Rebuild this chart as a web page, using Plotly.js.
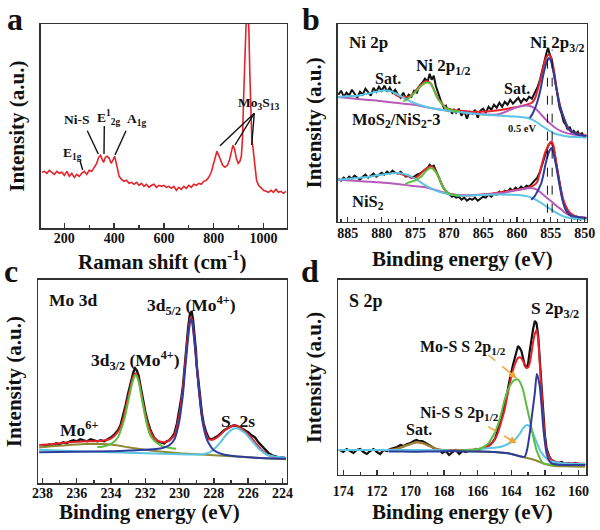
<!DOCTYPE html>
<html><head><meta charset="utf-8">
<script src="https://cdn.plot.ly/plotly-3.0.1.min.js"></script>
<style>html,body{margin:0;padding:0;background:#fff}#chart{width:600px;height:530px}</style>
</head><body><div id="chart"></div>
<script>
// ---------- Panel a: Raman spectrum [shift cm-1, intensity a.u.] ----------
const ramanSpectrum = [[110,56],[120,57],[130,55],[140,58],[150,56],[160,54],[170,57],[180,55],[190,56],[200,53],[210,57],[220,52],[230,55],[240,51],[250,54],[260,52],[270,55],[280,57],[290,54],[300,58],[310,57],[320,61],[330,65],[338,71],[345,73],[352,69],[358,66],[365,71],[372,72],[380,70],[388,65],[395,68],[402,72],[408,66],[414,58],[420,52],[430,49],[440,47],[450,48],[460,45],[470,46],[480,44],[490,46],[500,43],[510,45],[520,42],[530,44],[540,41],[550,43],[560,44],[570,41],[580,43],[590,42],[600,43],[610,41],[620,42],[630,40],[640,42],[650,38],[660,41],[670,39],[680,42],[690,40],[700,43],[710,41],[720,44],[730,43],[740,45],[750,44],[760,47],[770,48],[780,51],[790,56],[798,63],[806,71],[813,77],[820,73],[828,67],[836,63],[845,61],[855,63],[863,68],[870,76],[877,83],[884,79],[891,70],[898,65],[905,67],[911,72],[916,92],[920,130],[924,175],[928,210],[932,220],[937,218],[941,200],[945,155],[949,110],[953,88],[957,82],[961,72],[966,58],[972,48],[980,43],[990,40],[1000,38],[1010,37],[1020,36],[1030,38],[1040,36],[1050,39],[1060,36],[1070,37],[1080,35],[1090,37]];

// ---------- Panel b: Ni 2p XPS [binding energy eV, intensity a.u.] ----------
const niTopData = [[886.4,127],[886.0,131],[885.6,125],[885.2,129],[884.8,126],[884.4,132],[884.0,128],[883.6,124],[883.2,130],[882.8,127],[882.4,133],[882.0,129],[881.6,126],[881.2,134],[880.8,130],[880.4,135],[880.0,131],[879.6,136],[879.2,130],[878.8,134],[878.4,129],[878.0,132],[877.6,127],[877.2,124],[876.8,129],[876.4,123],[876.0,127],[875.6,125],[875.2,131],[874.8,129],[874.4,136],[874.0,139],[873.6,143],[873.2,140],[872.9,148],[872.6,142],[872.3,146],[872.0,136],[871.7,130],[871.4,122],[871.1,118],[870.8,114],[870.5,116],[870.2,110],[869.9,113],[869.6,108],[869.3,112],[869.0,109],[868.6,113],[868.2,106],[867.8,111],[867.4,103],[867.0,110],[866.6,108],[866.2,112],[865.8,104],[865.4,111],[865.0,113],[864.6,109],[864.2,115],[863.8,112],[863.4,117],[863.0,114],[862.6,119],[862.2,115],[861.8,120],[861.4,117],[861.0,122],[860.6,118],[860.2,121],[859.8,124],[859.4,119],[859.0,123],[858.6,121],[858.2,125],[857.8,123],[857.4,128],[857.0,134],[856.6,142],[856.2,154],[855.9,163],[855.6,170],[855.4,174],[855.2,168],[854.9,163],[854.6,150],[854.3,137],[854.0,126],[853.7,114],[853.4,108],[853.1,100],[852.8,97],[852.5,92],[852.2,95],[851.9,89],[851.6,91],[851.3,88],[851.0,90],[850.7,86],[850.4,89],[850.1,84],[849.8,87]];
const niTopEnvelope = [[878.2,128.5],[877.6,125.5],[877.0,124.5],[876.6,124.7],[876.2,124.8],[875.9,125.2],[875.5,127.3],[875.2,129.3],[874.8,132.5],[874.4,135.5],[874.0,138],[873.6,140],[873.3,140.5],[873.0,139.7],[872.7,138],[872.4,134],[872.0,128],[871.6,122.5],[871.2,119.5],[870.8,116],[870.5,114],[870.0,112.7],[869.5,111.8],[868.5,111],[867,110],[865.5,110],[864,110.5],[862.5,111.8],[861.2,113.2],[860.2,114.5],[859.35,115.6],[858.6,117],[857.8,119],[857.3,124],[856.9,133],[856.5,143],[856.1,155],[855.8,162],[855.5,166],[855.3,167],[855.0,165],[854.8,160.3],[854.5,150],[854.2,135.3],[853.8,121],[853.4,110.3],[853.0,102],[852.5,93.7],[852.0,90],[851.0,87.7],[849.7,86]];
const niTopBackground = [[886.5,124.7],[885,125.5],[883.5,126],[882.5,127.5],[881.6,128.7],[880.6,130.2],[879.6,131.3],[878.6,130.3],[877.9,128.2],[877.1,125.3],[876.2,121.8],[875.2,118.7],[874,116],[872.7,113.7],[871.5,112.2],[870.2,111],[869,110],[867,108.5],[865,107],[863,106.2],[860.8,105.3],[859.5,104.8],[858.4,103.7],[857.6,101.5],[856.9,98.7],[856.3,95.8],[855.7,93],[855.0,90.3],[854.4,88],[853.5,86.5],[852.5,85.3],[851.0,84.6],[849.7,84.3]];
const niTopSatellite = [[886.5,124.7],[885,123.8],[883.5,122.7],[882,121.8],[880.6,121],[879.1,119.8],[877.6,118.7],[876.4,117.8],[875.2,117],[874.2,115.7],[873.2,114.3],[872.4,113.4],[871.7,112.5],[870.5,111.3],[869.2,110.2],[867,108.7],[865,107.5],[863.3,107],[862.2,108.5],[861.5,110.5],[860.8,112.5],[860,114.5],[859.3,115.8],[858.8,116.3],[858.2,116],[857.4,113.7],[856.9,110.7],[856.4,107],[855.8,102.5],[854.9,97],[854.2,93.2],[853.4,90.3],[852.5,88.3],[851.5,87],[850.5,86],[849.7,85.5]];
const niTop2p12 = [[876.8,120.5],[876.2,122.5],[875.7,125.3],[875.2,128.5],[874.7,132],[874.3,135],[873.9,137.3],[873.5,139],[873.2,139.3],[872.9,138.5],[872.6,136.5],[872.3,132],[872.0,127],[871.6,122],[871.2,118.7],[870.8,115.5],[870.5,113.7],[870.0,112.3],[869.5,111.3],[868.5,110.3]];
const niTop2p32 = [[858.1,103.7],[857.7,108],[857.3,114],[856.9,122],[856.5,133],[856.2,144],[855.9,153],[855.6,160],[855.3,163.7],[855.0,161],[854.7,153],[854.4,142],[854.0,127],[853.7,117],[853.4,110.3],[853.0,102.5],[852.6,96],[852.2,92],[851.6,89],[851.0,87],[850.3,86.3],[849.7,86]];

const niBotData = [[886.4,43],[886.0,41],[885.6,44],[885.2,42],[884.8,45],[884.4,43],[884.0,46],[883.6,44],[883.2,42],[882.8,45],[882.4,47],[882.0,44],[881.6,46],[881.2,48],[880.8,45],[880.4,47],[880.0,49],[879.6,47],[879.2,50],[878.8,48],[878.4,51],[878.0,49],[877.6,48],[877.2,50],[876.8,47],[876.4,45],[876.0,46],[875.6,44],[875.2,45],[874.8,47],[874.4,48],[874.0,50],[873.6,52],[873.2,54],[872.9,57],[872.6,55],[872.3,56],[872.0,51],[871.7,47],[871.4,42],[871.1,37],[870.8,33],[870.5,30],[870.2,28],[869.9,27],[869.6,25],[869.3,26],[869.0,24],[868.6,25],[868.2,22],[867.8,24],[867.4,21],[867.0,23],[866.6,22],[866.2,24],[865.8,21],[865.4,23],[865.0,25],[864.6,24],[864.2,27],[863.8,25],[863.4,28],[863.0,27],[862.6,30],[862.2,28],[861.8,31],[861.4,30],[861.0,33],[860.6,31],[860.2,34],[859.8,32],[859.4,35],[859.0,33],[858.6,36],[858.2,35],[857.8,38],[857.4,40],[857.0,44],[856.6,50],[856.3,57],[856.0,64],[855.7,71],[855.4,76],[855.1,79],[854.8,78],[854.5,70],[854.2,58],[853.9,46],[853.6,35],[853.3,24],[853.0,16],[852.7,11],[852.4,8],[852.1,6],[851.8,5],[851.5,3],[851.2,5],[850.9,3],[850.6,2],[850.3,4],[850.0,2],[849.8,3]];
const niBotEnvelope = [[877.6,48.7],[876.8,47],[876.0,45.3],[875.6,44],[875.2,43.7],[874.8,44.8],[874.4,47],[874.0,49.7],[873.5,52.7],[873.0,54.8],[872.6,55.3],[872.3,53.8],[871.9,49.3],[871.5,44],[871.2,38.7],[870.9,34.7],[870.6,31.5],[870.3,29.5],[870.0,28],[869,26.8],[868,26.3],[866,26.8],[864,28],[862.5,29.5],[861,31],[860,32],[859.35,32.5],[858.4,34],[857.4,37],[857.0,40],[856.7,47],[856.4,55.3],[856.1,63],[855.8,70],[855.4,75.3],[855.1,79],[854.9,80.3],[854.6,76],[854.2,58.7],[853.8,42],[853.4,28.7],[853.0,19],[852.5,12],[852.0,8],[851.0,4.7],[849.7,3.7]];
const niBotBackground = [[886.5,42],[884,43.5],[881.6,45.3],[879.6,47.5],[877.6,48.7],[876.5,47.5],[875.7,45.3],[874.7,41.5],[873.7,37],[872.7,33.3],[871.7,30.3],[870.7,28.3],[869.7,27],[868,26],[866,26.5],[864.3,27],[862.5,27.2],[860.8,27],[859.5,26.5],[858.4,25.3],[857.4,22.5],[856.4,18.7],[855.6,15],[854.9,12],[854.1,8.5],[853.4,6],[852.7,4.5],[852.0,3.7],[851,3.0],[849.7,2.7]];
const niBotSatellite = [[886.5,42],[884.5,41.2],[882.6,40.3],[880.8,39.5],[879.1,38.7],[877.4,37.5],[875.7,36],[873.7,34.7],[872.7,33],[871.7,31],[870.7,29],[869.7,27.5],[868,26.5],[866,26.8],[864,27.5],[862.5,28.5],[861.8,29],[860.5,31],[859.3,32.5],[858.4,33.5],[857.9,33.7],[857.2,32.5],[856.4,28.7],[855.6,24],[854.9,20.3],[854.1,15.5],[853.4,12],[852.7,8],[852.0,6],[851.2,4.8],[850.5,4.3],[849.7,4]];
const niBot2p12 = [[876.5,37.5],[876.0,39.3],[875.5,40.3],[875.0,41.3],[874.5,43.5],[874.0,46],[873.6,49.5],[873.2,52],[872.9,53.3],[872.6,53.7],[872.3,52],[871.9,48.7],[871.5,43.5],[871.2,38.7],[870.9,34.5],[870.6,31.3],[870.3,29.3],[870.0,28],[869.3,26.8],[868.5,26]];
const niBot2p32 = [[857.9,22],[857.4,25.3],[857.0,30],[856.7,34],[856.4,38.7],[856.1,47],[855.8,57],[855.5,65.3],[855.2,71],[854.9,73.7],[854.6,68],[854.2,55.3],[853.8,40],[853.4,25.3],[853.0,15],[852.5,8.7],[852.0,6],[851.0,4.7],[849.7,3.7]];
const niPeakShift = [855.5, 854.8];   // Ni 2p3/2 positions marked by dashed lines (0.5 eV shift)

// ---------- Panel c: Mo 3d XPS ----------
const moData = [[238.0,38],[237.8,37],[237.6,39],[237.4,38],[237.2,40],[237.0,39],[236.8,41],[236.6,40],[236.4,42],[236.2,43],[236.0,42],[235.8,44],[235.6,43],[235.4,42],[235.2,44],[235.0,43],[234.8,42],[234.6,43],[234.4,42],[234.2,44],[234.0,46],[233.8,49],[233.6,53],[233.45,58],[233.3,67],[233.15,78],[233.0,90],[232.9,98],[232.8,105],[232.7,111],[232.6,115],[232.5,113],[232.4,108],[232.3,99],[232.2,88],[232.1,79],[232.0,71],[231.85,61],[231.7,53],[231.5,46],[231.3,42],[231.1,41],[230.9,40],[230.75,42],[230.6,43],[230.45,46],[230.3,50],[230.15,60],[230.0,73],[229.9,85],[229.8,98],[229.7,118],[229.6,138],[229.5,156],[229.4,169],[229.3,172],[229.22,164],[229.15,153],[229.05,133],[229.0,118],[228.9,100],[228.8,83],[228.7,70],[228.6,60],[228.45,51],[228.3,45],[228.15,44],[228.0,45],[227.8,47],[227.6,50],[227.4,53],[227.2,55],[227.0,57],[226.8,58],[226.6,57],[226.4,55],[226.2,53],[226.0,51],[225.8,48],[225.6,46],[225.4,41],[225.2,37],[225.0,33],[224.8,30],[224.6,28],[224.4,27],[224.2,26],[224.0,26],[223.8,25]];
const moEnvelope = [[238.2,38.3],[237.5,39],[237,40],[236.5,41],[236,41.5],[235.5,42],[235,42],[234.5,42.5],[234.2,43.5],[234.0,45],[233.8,47.5],[233.6,51.5],[233.45,56.5],[233.3,64],[233.15,75],[233.0,86],[232.9,94],[232.8,101],[232.7,107],[232.6,110],[232.5,108.5],[232.4,104],[232.3,96],[232.2,86],[232.1,77],[232.0,69],[231.85,59],[231.7,52],[231.5,46],[231.3,43],[231.1,41.5],[230.9,41],[230.7,42],[230.5,44.5],[230.3,48],[230.15,57],[230.0,70],[229.9,82],[229.8,96],[229.7,115],[229.6,134],[229.5,151],[229.42,161],[229.35,166],[229.28,164],[229.2,154],[229.1,137],[229.0,118],[228.9,99],[228.8,82],[228.7,68],[228.6,58],[228.45,49],[228.3,44],[228.15,43.5],[228.0,44],[227.8,46],[227.6,49],[227.4,52.5],[227.2,55],[227.0,57],[226.8,58],[226.6,57],[226.4,55],[226.2,52],[226.0,49],[225.8,45.5],[225.6,41],[225.4,37],[225.2,33],[225.0,30],[224.8,28],[224.4,26],[224.0,25.5],[223.8,25.3]];
const mo6Plus = [[238.2,36],[237.5,37],[237,37.5],[236.5,38.2],[236,38.8],[235.5,39.2],[235,39.3],[234.5,39.2],[234,38.7],[233.5,37.5],[233,36],[232.5,34.7],[232,33.5],[231,31.5],[230,30],[229,29],[228,28],[227,27],[226,26],[225,25],[223.8,24]];
const s2s = [[238.2,33.5],[236,32],[234,31],[232,30],[230,29],[228.8,28.8],[228.6,29],[228.4,30],[228.2,31.5],[228.0,34],[227.8,37.5],[227.6,41.5],[227.4,46],[227.2,50],[227.0,53],[226.85,54.5],[226.7,55],[226.55,54.5],[226.4,53],[226.2,50.5],[226.0,47],[225.8,43],[225.6,39],[225.4,35],[225.2,32],[225.0,29.5],[224.8,28],[224.5,26.8],[224.2,26.2],[223.8,25.8]];
const mo3d32 = [[234.8,36],[234.4,37],[234.2,38],[234.0,39.5],[233.8,42],[233.6,46],[233.5,50],[233.35,57],[233.2,66],[233.1,74],[233.0,82],[232.9,90],[232.8,98],[232.7,104],[232.6,108],[232.5,107],[232.4,102],[232.3,94],[232.2,84],[232.1,75],[232.0,66],[231.9,58],[231.8,52],[231.65,46],[231.5,43],[231.3,40],[231.0,37],[230.6,35.5],[230.2,34.5]];
const mo3d52 = [[238.2,31],[236,31.5],[234,32],[233,32.7],[232,33.5],[231.4,34.3],[231.0,35.3],[230.6,38],[230.3,44],[230.15,52],[230.0,64],[229.9,76],[229.8,90],[229.7,110],[229.6,128],[229.5,146],[229.42,158],[229.35,164],[229.28,162],[229.2,152],[229.1,135],[229.0,116],[228.9,97],[228.8,80],[228.7,66],[228.6,56],[228.45,46],[228.3,40],[228.0,33],[227.5,29],[227.0,27.5],[226,26],[225,25],[223.8,24.5]];

// ---------- Panel d: S 2p XPS ----------
const sData = [[174.2,25],[174.0,23],[173.8,26],[173.6,24],[173.4,22],[173.2,25],[173.0,26],[172.8,23],[172.6,21],[172.4,24],[172.2,26],[172.0,23],[171.8,21],[171.6,25],[171.4,24],[171.2,26],[171.0,27],[170.8,28],[170.6,30],[170.4,29],[170.2,31],[170.0,32],[169.8,34],[169.65,35],[169.5,34],[169.3,34],[169.1,32],[168.9,30],[168.7,28],[168.5,26],[168.3,25],[168.1,22],[167.9,24],[167.7,20],[167.5,23],[167.3,25],[167.1,21],[166.9,24],[166.7,23],[166.5,25],[166.3,24],[166.1,26],[165.9,25],[165.7,27],[165.5,28],[165.3,30],[165.1,33],[164.95,37],[164.8,45],[164.65,53],[164.5,62],[164.35,73],[164.2,87],[164.05,99],[163.9,110],[163.75,120],[163.6,129],[163.5,127],[163.4,124],[163.3,117],[163.2,110],[163.1,107],[163.0,111],[162.9,124],[162.8,136],[162.7,146],[162.6,154],[162.5,152],[162.4,140],[162.3,112],[162.2,84],[162.1,58],[162.0,40],[161.9,27],[161.75,19],[161.6,15],[161.4,13],[161.2,12],[161.0,13],[160.8,11],[160.6,12],[160.4,11],[160.2,12],[160.0,11],[159.8,11],[159.6,10]];
const sEnvelope = [[171.8,24.8],[171.2,25.3],[170.8,26.5],[170.4,28.5],[170.0,31],[169.65,32.8],[169.3,32],[169.0,30],[168.7,27.5],[168.4,25.7],[168,25],[167,25],[166.2,25.5],[165.7,26.8],[165.4,28.3],[165.2,31],[165.0,35],[164.8,42],[164.6,53],[164.4,65],[164.2,82],[164.0,98],[163.8,110],[163.6,117],[163.45,117.5],[163.3,114],[163.15,108],[163.0,107.5],[162.9,112],[162.8,121.7],[162.7,133],[162.6,141],[162.5,145],[162.4,136],[162.3,110],[162.2,84],[162.1,58],[162.0,38],[161.9,25],[161.7,17],[161.4,13.3],[161.0,12],[160.5,11.7],[159.6,11.3]];
const sSatBackground = [[174.3,25],[172,25],[171.5,25],[171.0,25.5],[170.6,27.3],[170.3,29.2],[170.0,31],[169.65,32.8],[169.3,32],[169.0,30],[168.7,27.8],[168.4,25.7],[168.0,24.8],[167.36,24.3],[166.4,23.8],[165.4,23.3],[164.8,22.7],[164.2,21.7],[163.8,20.2],[163.4,18.3],[163.0,16.8],[162.6,15],[162.3,13],[162.0,11],[161.7,9.8],[161.4,9],[160.5,8.6],[159.6,8.3]];
const sNiS = [[174.3,25],[172,25],[170,25],[168,24.8],[167.36,24.3],[166.4,25],[165.4,26.7],[164.6,28.3],[164.2,31],[163.8,35],[163.5,41],[163.3,46.7],[163.05,50],[162.9,48.5],[162.7,41.7],[162.5,33],[162.3,25],[162.05,19],[161.8,15],[161.4,12.8],[161.0,11.7],[160.3,11.2],[159.6,11]];
const sMoS = [[167.3,24.5],[166.6,24.8],[166.2,25.3],[165.8,26.7],[165.4,31],[165.0,41.7],[164.7,55],[164.4,75],[164.2,85],[164.0,91.7],[163.8,95],[163.65,95.7],[163.5,93.5],[163.3,85],[163.1,70],[162.9,55],[162.7,39],[162.5,25],[162.3,17],[162.1,11.7],[161.7,10.5],[161.0,10],[159.6,10]];
const s2p32 = [[171.3,23.5],[170.5,23.4],[169.5,23.3],[168.5,23.5],[167.5,24],[166.5,23.5],[165.4,23.3],[164.2,21.7],[163.4,18.5],[163.2,18.3],[163.05,26],[162.9,41.7],[162.75,62],[162.6,81.7],[162.48,101],[162.4,97],[162.3,88.3],[162.2,70],[162.1,48.3],[162.0,33],[161.9,21.7],[161.75,14.5],[161.6,11.7],[161.3,10.5],[160.5,10],[159.6,10]];

// ---------- styling ----------
const C = {red:'#e5232b', green:'#5cbd3f', blue:'#2e3c9e', magenta:'#b65bb8', cyan:'#5cc5e3', olive:'#8e8a33', black:'#111111', orange:'#f2a534'};
const FONT = 'Liberation Serif';

function tr(pairs, n, color, width, smooth) {
  return {x: pairs.map(p => p[0]), y: pairs.map(p => p[1]), xaxis: 'x' + (n > 1 ? n : ''), yaxis: 'y' + (n > 1 ? n : ''),
    type: 'scatter', mode: 'lines', line: {color: color, width: width, shape: smooth ? 'spline' : 'linear', smoothing: 0.7},
    hoverinfo: 'skip', showlegend: false};
}

const traces = [
  tr(ramanSpectrum, 1, C.red, 1.6, false),
  tr(niTopData, 2, C.black, 2, false), tr(niBotData, 2, C.black, 2, false),
  tr(niTopEnvelope, 2, C.red, 2, true), tr(niBotEnvelope, 2, C.red, 2, true),
  tr(niTopSatellite, 2, C.magenta, 2, true), tr(niBotSatellite, 2, C.magenta, 2, true),
  tr(niTopBackground, 2, C.cyan, 2, true), tr(niBotBackground, 2, C.cyan, 2, true),
  tr(niTop2p12, 2, C.green, 2, true), tr(niBot2p12, 2, C.green, 2, true),
  tr(niTop2p32, 2, C.blue, 2, true), tr(niBot2p32, 2, C.blue, 2, true),
  tr(moData, 3, C.black, 2.4, false), tr(moEnvelope, 3, C.red, 2, true), tr(mo6Plus, 3, C.olive, 2, true),
  tr(s2s, 3, C.cyan, 2, true), tr(mo3d32, 3, C.green, 2, true), tr(mo3d52, 3, C.blue, 2, true),
  tr(sData, 4, C.black, 2.2, false), tr(sEnvelope, 4, C.red, 2, true), tr(sSatBackground, 4, C.olive, 2, true),
  tr(sNiS, 4, C.cyan, 2, true), tr(sMoS, 4, C.green, 2, true), tr(s2p32, 4, C.blue, 2, true)
];

const P = x => x / 600, Q = y => 1 - y / 530;

function xax(domain, range, dtick, minorDtick, anchor, labelShift) {
  return {domain: domain, range: range, anchor: anchor, dtick: dtick, tick0: 0,
    showline: true, mirror: true, linecolor: '#333', linewidth: 1.5,
    ticks: 'inside', ticklen: 5, tickwidth: 1.3, tickcolor: '#333',
    minor: {dtick: minorDtick, ticks: 'inside', ticklen: 3, tickwidth: 1.2, tickcolor: '#333'},
    showgrid: false, zeroline: false, ticklabelstandoff: labelShift,
    tickfont: {family: FONT, size: 14, color: '#111'},
    tickprefix: '<b>', ticksuffix: '</b>'};
}
function yax(domain, range, anchor) {
  return {domain: domain, range: range, anchor: anchor, showline: true, mirror: true, linecolor: '#333', linewidth: 1.5,
    ticks: '', showticklabels: false, showgrid: false, zeroline: false,
    title: {text: '<b>Intensity (a.u.)</b>', font: {family: FONT, size: 21, color: '#111'}, standoff: 9}};
}

function lab(text, x, y, size) {
  return {xref: 'paper', yref: 'paper', x: P(x), y: Q(y), text: '<b>' + text + '</b>', showarrow: false,
    xanchor: 'center', yanchor: 'middle', font: {family: FONT, size: size, color: '#111'}};
}
function seg(x0, y0, x1, y1, color, dash, w) {
  return {type: 'line', xref: 'paper', yref: 'paper', x0: P(x0), y0: Q(y0), x1: P(x1), y1: Q(y1),
    line: {color: color || '#111', width: w || 1.4, dash: dash || 'solid'}};
}

const annotations = [
  lab('a', 15, 19, 32), lab('b', 311, 19, 32), lab('c', 11, 271, 32), lab('d', 310, 271, 32),
  // x-axis titles
  lab('Raman shift (cm<sup>-1</sup>)', 162, 260, 21), lab('Binding energy (eV)', 462, 259, 21),
  lab('Binding energy (eV)', 149, 512, 21), lab('Binding energy (eV)', 462, 512, 21),
  // panel a
  lab('E<sub>1g</sub>', 72.5, 154, 13.5), lab('Ni-S', 77, 120, 13.5), lab('E<sup>1</sup><sub>2g</sub>', 108, 117, 13.5),
  lab('A<sub>1g</sub>', 136.7, 119, 13.5), lab('Mo<sub>3</sub>S<sub>13</sub>', 258, 103, 13.5),
  // panel b
  lab('Ni 2p', 368, 43, 17), lab('Ni 2p<sub>1/2</sub>', 442.5, 67, 17), lab('Sat.', 388, 79, 16),
  lab('Sat.', 516.7, 89, 16), lab('Ni 2p<sub>3/2</sub>', 556.7, 44, 17), lab('MoS<sub>2</sub>/NiS<sub>2</sub>-3', 396.7, 120, 16.5),
  lab('NiS<sub>2</sub>', 368, 202, 16.5), lab('0.5 eV', 521.7, 128.5, 10.5),
  // panel c
  lab('Mo 3d', 73, 300, 17.5), lab('3d<sub>5/2</sub> (Mo<sup>4+</sup>)', 191.7, 305, 17.5),
  lab('3d<sub>3/2</sub> (Mo<sup>4+</sup>)', 135, 360, 17.5), lab('Mo<sup>6+</sup>', 79, 429, 17.5), lab('S\u00a0\u00a02s', 238, 421, 17.5),
  // panel d
  lab('S 2p', 366, 301, 18), lab('S 2p<sub>3/2</sub>', 555, 309, 17.5), lab('Mo-S S 2p<sub>1/2</sub>', 462.5, 347, 16),
  lab('Ni-S S 2p<sub>1/2</sub>', 459, 413, 16), lab('Sat.', 419, 429, 16),
  // orange arrow heads (panel d)
  {xref: 'paper', yref: 'paper', x: P(516.7), y: Q(378.3), ax: -9, ay: -7.4, text: '', showarrow: true, arrowhead: 2, arrowsize: 1, arrowwidth: 1.5, arrowcolor: C.orange},
  {xref: 'paper', yref: 'paper', x: P(516.7), y: Q(443.3), ax: -10, ay: -5.8, text: '', showarrow: true, arrowhead: 2, arrowsize: 1, arrowwidth: 1.5, arrowcolor: C.orange}
];

const shapes = [
  seg(80, 160.7, 82.7, 170), seg(87.3, 130.7, 98.3, 154), seg(104.3, 126, 104, 154), seg(126, 130.7, 115, 155),
  seg(254.3, 113.3, 220, 145.7), seg(254.3, 113.3, 235, 145), seg(254.3, 113.3, 251.7, 145),
  seg(488.3, 355, 516.7, 378.3, C.orange, 'dash', 1.5), seg(488.3, 426.7, 516.7, 443.3, C.orange, 'dash', 1.5)
];
niPeakShift.forEach(e => shapes.push({type: 'line', xref: 'x2', yref: 'y2', x0: e, x1: e, y0: 9, y1: 172,
  line: {color: '#111', width: 1, dash: 'dash'}}));

const layout = {
  width: 600, height: 530, margin: {l: 0, r: 0, t: 0, b: 0}, paper_bgcolor: '#fff', plot_bgcolor: '#fff',
  font: {family: FONT, color: '#111', size: 14},
  showlegend: false,
  xaxis:  xax([0.0678, 0.4778], [105, 1093], 200, 100, 'y', -4),
  yaxis:  yax([0.5692, 0.9547], [0, 204.3], 'x'),
  xaxis2: xax([0.5628, 0.9778], [886.5, 849.7], 5, 1, 'y2', -2),
  yaxis2: yax([0.5817, 0.9547], [0, 197.7], 'x2'),
  xaxis3: xax([0.0638, 0.4778], [238.25, 223.75], 2, 1, 'y3', -4),
  yaxis3: yax([0.0881, 0.4717], [0, 203.3], 'x3'),
  xaxis4: xax([0.5638, 0.9767], [174.3, 159.55], 2, 1, 'y4', 3),
  yaxis4: yax([0.1038, 0.4717], [0, 195], 'x4'),
  annotations: annotations, shapes: shapes
};

Plotly.newPlot('chart', traces, layout, {staticPlot: true, displayModeBar: false});
</script></body></html>
